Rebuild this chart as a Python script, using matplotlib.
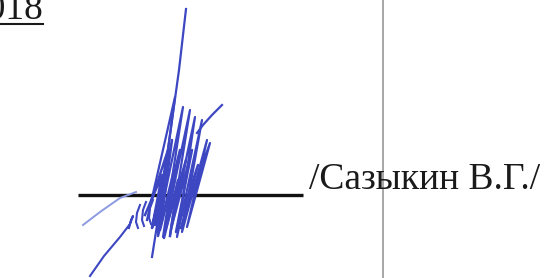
import matplotlib
matplotlib.use('Agg')
from matplotlib import pyplot as plt

# scanned signature block, drawn in pixel coordinates
year_text = '2018'
name_text = '/Сазыкин В.Г./'

# signature strokes (x, y) in image pixels
long_stroke_x = [186, 179, 170, 161, 152]
long_stroke_y = [9, 70, 135, 200, 257]

zigzag_x = [147, 175, 157, 183, 163, 190, 170, 195, 177, 202, 182, 207, 187, 210, 184]
zigzag_y = [220, 97, 232, 107, 237, 110, 235, 117, 237, 120, 232, 140, 227, 143, 215]

inner_x = [150, 168, 155, 172, 160, 180, 166, 186, 172, 192, 176, 198, 181]
inner_y = [205, 150, 225, 140, 230, 150, 228, 160, 225, 150, 232, 165, 228]

dense_x = [145, 162, 152, 166, 158, 174, 164, 178, 170]
dense_y = [215, 175, 228, 168, 236, 170, 238, 180, 236]

diag_x = [222, 212, 203, 197]
diag_y = [105, 115, 125, 133]

pale_x = [83, 100, 120, 136]
pale_y = [225, 212, 198, 192]

lower_x = [90, 104, 120, 130, 133, 131, 129]
lower_y = [276, 256, 237, 224, 216, 220, 228]

curls_x = [[140, 137, 136, 138], [146, 143, 142, 144], [153, 150, 149, 151]]
curls_y = [[205, 213, 222, 228], [202, 210, 220, 226], [200, 208, 218, 224]]

ink = '#3d47c2'

fig = plt.figure(figsize=(5.47, 2.78), dpi=100)
ax = fig.add_axes([0, 0, 1, 1])
ax.set_xlim(0, 547)
ax.set_ylim(278, 0)
ax.axis('off')

# fold line of the scan
ax.axvline(383, color='#a0a0a0', lw=1.3)

# year with underline (cut by the scan edge, as in the original)
ax.text(43, 19, year_text, fontsize=27, family='Liberation Serif',
        ha='right', va='baseline', color='#1a1a1a')
ax.plot([0, 43], [24, 24], color='#1a1a1a', lw=1.5)

# signature line
ax.plot([78, 303], [195, 195], color='#111111', lw=2.4, solid_capstyle='butt', zorder=2)

ax.text(309, 189, name_text, fontsize=27, family='Liberation Serif',
        ha='left', va='baseline', color='#1a1a1a')

# signature
ax.plot(long_stroke_x, long_stroke_y, color=ink, lw=1.6, zorder=3)
ax.plot(zigzag_x, zigzag_y, color=ink, lw=1.6, zorder=3)
ax.plot(inner_x, inner_y, color=ink, lw=1.8, zorder=3)
ax.plot(dense_x, dense_y, color=ink, lw=1.8, zorder=3)
ax.plot(diag_x, diag_y, color=ink, lw=1.6, zorder=3)
ax.plot(pale_x, pale_y, color='#8c9ae0', lw=1.4, zorder=3)
ax.plot(lower_x, lower_y, color=ink, lw=1.5, zorder=3)
for cx, cy in zip(curls_x, curls_y):
    ax.plot(cx, cy, color=ink, lw=1.5, zorder=3)

plt.savefig('out.png', dpi=100)
